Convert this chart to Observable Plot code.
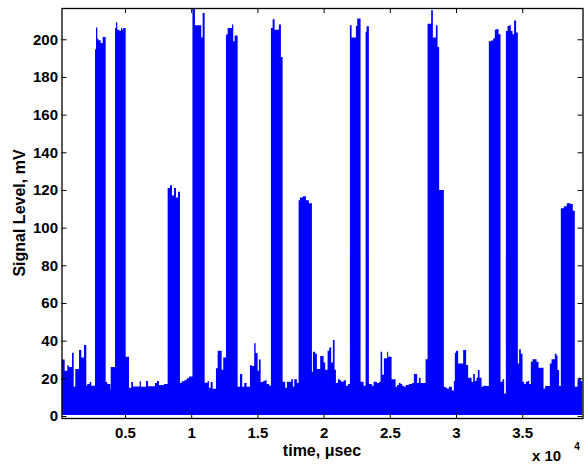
<!DOCTYPE html>
<html>
<head>
<meta charset="utf-8">
<script src="https://cdn.jsdelivr.net/npm/d3@7"></script>
<script src="https://cdn.jsdelivr.net/npm/@observablehq/plot@0.6"></script>
<style>
  body { margin: 0; background: #fff; }
  svg { display: block; }
</style>
</head>
<body>
<div id="chart"></div>
<script>
const time = [
  204, 445, 642, 747, 997, 1125, 1246, 1525, 1699, 1903, 2076, 2152, 2333, 2454,
  2733, 2809, 2907, 2982, 3163, 3314,
  3541, 3662, 3888, 3918,
  4243, 4319, 4417, 4568, 4696, 4794, 4870,
  5051, 5300, 5474, 5602, 6108, 6206, 6584, 6735, 7263, 7414, 7565, 7943,
  8222, 8396, 8547, 8698, 8849, 9000,
  9151, 9279, 9475, 9656, 9830,
  10094, 10283, 10759, 10864,
  11015, 11242, 11340, 11468, 11619, 11869, 11997, 12299, 12420,
  12624, 12752, 13077, 13175, 13280,
  13507, 13681, 13854, 14005, 14186, 14436, 14587, 14760, 14866, 15017, 15115, 15243, 15440, 15568, 15696, 15893,
  16021, 16149, 16300, 16625, 16776,
  16904, 17101, 17229, 17554, 17682, 17780, 17984,
  18112, 18211, 18437, 18664, 18890,
  19117, 19192, 19366, 19494, 19743, 20000, 20121, 20302, 20423, 20574, 20702, 20830, 20929, 21080, 21208, 21329, 21510, 21684, 21835,
  21986, 22114, 22439, 22537,
  22793, 23020,
  23171, 23246,
  23420, 23647, 23775, 24024, 24198, 24303, 24424, 24553, 24802, 24877, 25134, 25436, 25557, 25685, 25813, 25934, 26063, 26191, 26440, 26689, 26818, 27067, 27195, 27323, 27701,
  27852, 28124, 28252, 28479, 28607, 28728,
  29083, 29211, 29332, 29460, 29687, 29838, 29913, 30011, 30162, 30540, 30766, 30917, 31174, 31295, 31423, 31551, 31650, 31778, 31929, 32050, 32254,
  32480, 32631, 32805, 32933, 33061, 33212,
  33363, 33514, 33635,
  33764, 33892, 34013, 34141, 34269, 34390, 34541,
  34670, 34768, 34896, 35024, 35145, 35274, 35402, 35523, 35651, 35779, 36081, 36232, 36610, 36731, 37086, 37214, 37463, 37591, 37667, 37788,
  37916, 38143, 38369, 38633, 38822,
  38973, 39177, 39298, 39426, 39554
];
const level = [
  30, 24, 27, 26, 33.6, 15.5, 25, 35, 31, 37.7, 16, 17, 18, 16,
  194.7, 206.2, 200.4, 199.5, 198, 201.2,
  18, 17, 14, 26,
  206, 209, 205, 204.5, 206, 205, 206,
  31.5, 15, 18, 15.6, 18.5, 15.5, 18.6, 15.8, 17.5, 18.6, 16.5, 17,
  121, 122.5, 117, 121, 116, 119,
  17.5, 18.5, 19, 20, 21,
  220, 207.4, 201, 214,
  17.6, 18.6, 15, 18, 14.5, 25.3, 34.6, 24.5, 31.1,
  202.5, 206, 207.8, 199, 202,
  15.5, 22.3, 15.5, 17.5, 15.5, 27, 26.5, 38.6, 33.5, 24, 30, 18, 18.6, 19, 17, 16,
  206, 210.6, 205, 207.8, 190.6,
  18.2, 15, 18.2, 19.5, 15.5, 19.5, 17.5,
  114.6, 116, 116.7, 114.6, 113,
  23.5, 34.1, 33, 25, 31.8, 28.4, 24.5, 34.6, 36.4, 28.4, 40.3, 24.5, 17.5, 19.5, 19, 18.2, 19, 16, 17,
  207.4, 201, 207, 211,
  18.2, 16,
  204, 206.9,
  17, 16, 18.2, 17.5, 18.2, 34.1, 21.9, 30.6, 34.1, 31.5, 19.5, 15.5, 16.5, 17.5, 17, 16, 15.5, 16.5, 17, 17.5, 22.3, 17.5, 20.3, 17.5, 30.1,
  208.3, 215.4, 201, 207.4, 195.9, 120,
  15.5, 15, 14.5, 15.5, 13.5, 18.6, 33.6, 34.6, 27.9, 35, 27.1, 20.3, 18.2, 22.3, 18.6, 20.3, 24.4, 20.3, 15.5, 16, 15.9,
  199, 199.3, 200.4, 205, 205.5, 202.6,
  18.2, 19.5, 12,
  204.4, 207, 207.5, 204.4, 202.6, 210, 203.6,
  27.9, 35.4, 33, 18.2, 17, 18.2, 18.6, 17, 28.8, 30.1, 28.8, 25.6, 14.5, 15.9, 27.9, 30.1, 33, 32, 24.4, 15.9,
  110.3, 111.4, 113, 112.5, 109,
  15.5, 19.5, 20.3, 18.6, 18.2
];
const floorLevel = 0.5;                 // lower edge of the noise band, mV
const xDomain = [204, 39554];
const yDomain = [-1.06, 216.6];
const xTicks = [5000, 10000, 15000, 20000, 25000, 30000, 35000];
const yTicks = [0, 20, 40, 60, 80, 100, 120, 140, 160, 180, 200];
const xLabel = "time, \u03bcsec";
const yLabel = "Signal Level, mV";
const xExponent = "4";

const data = time.map((t, i) => ({t, v: level[i]}));

const W = 584, H = 465;
const mL = 61.5, mR = 1.5, mT = 8, mB = 47;
const plotW = W - mL - mR, plotH = H - mT - mB;
const tick = 5;

const chart = Plot.plot({
  width: W, height: H,
  marginLeft: mL, marginRight: mR, marginTop: mT, marginBottom: mB,
  style: {fontFamily: "'Liberation Sans', Arial, sans-serif", fontSize: "15px", fontWeight: "bold", color: "black", background: "white"},
  x: {domain: xDomain},
  y: {domain: yDomain},
  marks: [
    Plot.areaY(data, {x: "t", y1: floorLevel, y2: "v", curve: "step-after", fill: "#0000ff", clip: true}),
    Plot.tickX(xTicks, {x: d => d, insetTop: plotH - tick, stroke: "black"}),
    Plot.tickX(xTicks, {x: d => d, insetBottom: plotH - tick, stroke: "black"}),
    Plot.tickY(yTicks, {y: d => d, insetRight: plotW - tick, stroke: "black"}),
    Plot.tickY(yTicks, {y: d => d, insetLeft: plotW - tick, stroke: "black"}),
    Plot.frame({stroke: "black", strokeWidth: 1.3}),
    Plot.axisX({ticks: xTicks, anchor: "bottom", tickSize: 0, tickPadding: 9, tickFormat: d => String(d / 1e4), label: null}),
    Plot.axisY({ticks: yTicks, anchor: "left", tickSize: 0, tickPadding: 4, label: null})
  ]
});

const svg = d3.select(chart);
svg.append("text")
  .attr("x", mL + plotW / 2).attr("y", 456)
  .attr("text-anchor", "middle")
  .style("font-size", "16px").style("font-weight", "bold")
  .text(xLabel);
svg.append("text")
  .attr("transform", `translate(24.5,${mT + plotH / 2}) rotate(-90)`)
  .attr("text-anchor", "middle")
  .style("font-size", "16px").style("font-weight", "bold")
  .text(yLabel);
svg.append("text")
  .attr("x", 546.5).attr("y", 461)
  .style("font-size", "15px").style("font-weight", "bold")
  .text("x 10");
svg.append("text")
  .attr("x", 577).attr("y", 450)
  .style("font-size", "10px").style("font-weight", "bold")
  .text(xExponent);

document.getElementById("chart").appendChild(chart);
</script>
</body>
</html>
